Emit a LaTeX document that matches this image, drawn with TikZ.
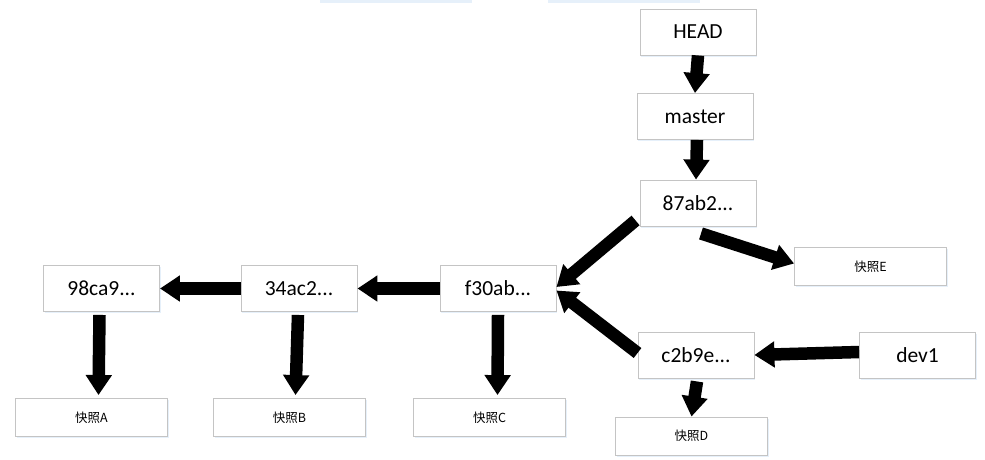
\documentclass[tikz,border=0pt]{standalone}
\usepackage{fontspec}
\setmainfont{Carlito}
\newfontfamily\cjk{Noto Sans CJK SC}
\usetikzlibrary{arrows.meta,shadows}
\definecolor{boxgray}{HTML}{C4C4C4}
\definecolor{shadowblue}{HTML}{E6F0FA}
\tikzset{
  commit/.style={draw=boxgray, line width=0.9pt, fill=white, minimum width=116pt, minimum height=46pt, inner sep=0pt,
    drop shadow={shadow xshift=1.2pt, shadow yshift=-1.5pt, fill=shadowblue, opacity=1},
    font=\fontsize{21.5}{25}\selectfont},
  snap/.style={draw=boxgray, line width=0.9pt, fill=white, minimum width=152pt, minimum height=38pt, inner sep=0pt,
    drop shadow={shadow xshift=1.2pt, shadow yshift=-1.5pt, fill=shadowblue, opacity=1},
    font=\cjk\fontsize{12.5}{14}\selectfont},
  arr/.style={draw=black, line width=12.5pt, -{Triangle[length=20pt,width=25pt]}}
}
\begin{document}
\begin{tikzpicture}[x=1pt,y=-1pt]
\useasboundingbox (0,0) rectangle (985,459);
\fill[white] (0,0) rectangle (985,459);
% partial boxes cut off at the top
\fill[shadowblue] (320,0) rectangle (472,2.5);
\fill[shadowblue] (548,0) rectangle (700,2.5);

\node[commit] (head) at (698,32) {HEAD};
\node[commit] (master) at (695,116.5) {master};
\node[commit] (n87) at (698,203) {87ab2...};
\node[snap] (snapE) at (870.5,266.5) {快照E};
\node[commit] (c2b9e) at (696,355) {c2b9e...};
\node[commit] (dev1) at (917.5,355) {dev1};
\node[snap] (snapD) at (691.5,436) {快照D};
\node[commit] (f30ab) at (498,288.5) {f30ab...};
\node[commit] (n34) at (299,288.5) {34ac2...};
\node[commit] (n98) at (101.5,288.5) {98ca9...};
\node[snap] (snapA) at (91.5,417.5) {快照A};
\node[snap] (snapB) at (289.5,417.5) {快照B};
\node[snap] (snapC) at (489.5,417.5) {快照C};

\draw[arr] (head.south) -- (master.north);
\draw[arr] ([xshift=2pt]master.south) -- ([xshift=-2pt]n87.north);
\draw[arr] ([xshift=-4pt,yshift=6pt]n87.south west) -- ([yshift=1.5pt]f30ab.east);
\draw[arr] ([yshift=2pt]c2b9e.west) -- ([yshift=-2pt]f30ab.east);
\draw[arr] ([xshift=3pt,yshift=-7pt]n87.south) -- ([yshift=3pt]snapE.west);
\draw[arr] ([yshift=3pt]dev1.west) -- (c2b9e.east);
\draw[arr] ([xshift=1pt,yshift=-3pt]c2b9e.south) -- (snapD.north);
\draw[arr] (n34.west) -- (n98.east);
\draw[arr] (f30ab.west) -- (n34.east);
\draw[arr] ([xshift=-2pt,yshift=-3pt]n98.south) -- ([xshift=7pt,yshift=3pt]snapA.north);
\draw[arr] ([xshift=-1pt,yshift=-3pt]n34.south) -- ([xshift=6pt,yshift=3pt]snapB.north);
\draw[arr] ([yshift=-3pt]f30ab.south) -- ([xshift=8pt,yshift=3pt]snapC.north);
\end{tikzpicture}
\end{document}
